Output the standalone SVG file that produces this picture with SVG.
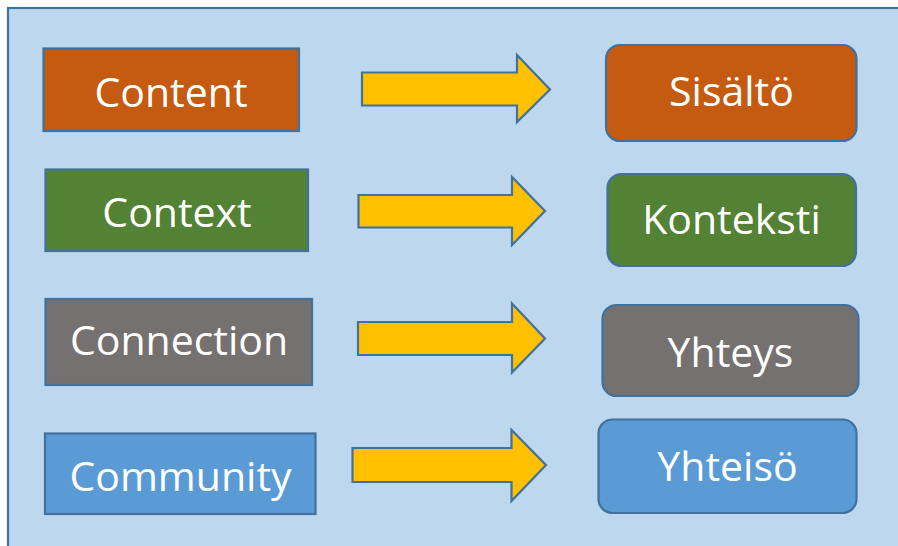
<svg xmlns="http://www.w3.org/2000/svg" width="898" height="546" viewBox="0 0 898 546">
<style>
.ln{stroke:#41719C;stroke-width:2.2;stroke-linejoin:miter}
.t{font-family:"Open Sans","Noto Sans",sans-serif;font-size:41px;fill:#FFFFFF;text-anchor:middle}
.or{fill:#C55A11}.gr{fill:#548235}.gy{fill:#767171}.bl{fill:#5B9BD5}
.ar{fill:#FFC000}
</style>
<rect x="0" y="0" width="898" height="546" fill="#FFFFFF"/>
<rect id="panel" x="8" y="8" width="900" height="550" fill="#BDD7EE" class="ln"/>
<g id="n-content"><rect x="43.5" y="48.5" width="255.5" height="82.5" class="or ln"/><text x="171" y="107" class="t">Content</text></g>
<g id="n-context"><rect x="45.5" y="169.5" width="262.5" height="81.5" class="gr ln"/><text x="177" y="227" class="t">Context</text></g>
<g id="n-connection"><rect x="45.5" y="299" width="266.5" height="86" class="gy ln"/><text x="179" y="355" class="t">Connection</text></g>
<g id="n-community"><rect x="45" y="433.5" width="270.5" height="80.5" class="bl ln"/><text x="180.5" y="491" class="t">Community</text></g>
<g id="n-sisalto"><rect x="606" y="45" width="250.5" height="96" rx="14" class="or ln"/><text x="731.5" y="106" class="t">Sisältö</text></g>
<g id="n-konteksti"><rect x="607.5" y="174" width="248.5" height="92" rx="14" class="gr ln"/><text x="731.5" y="234" class="t">Konteksti</text></g>
<g id="n-yhteys"><rect x="602.5" y="305" width="256" height="91" rx="14" class="gy ln"/><text x="730.5" y="366.5" class="t">Yhteys</text></g>
<g id="n-yhteiso"><rect x="598.5" y="419.5" width="258" height="93.5" rx="14" class="bl ln"/><text x="727.5" y="481" class="t">Yhteisö</text></g>
<g id="connectors">
<polygon points="362,72.5 517,72.5 517,55 550,89.5 517,122 517,105.5 362,105.5" class="ar ln"/>
<polygon points="358.5,195 512,195 512,177 545,211 512,245 512,227.5 358.5,227.5" class="ar ln"/>
<polygon points="358,322 512,322 512,303.5 545,338.5 512,372.5 512,355 358,355" class="ar ln"/>
<polygon points="352.5,448 511.5,448 511.5,430 546,465 511.5,501 511.5,482 352.5,482" class="ar ln"/>
</g>
</svg>
